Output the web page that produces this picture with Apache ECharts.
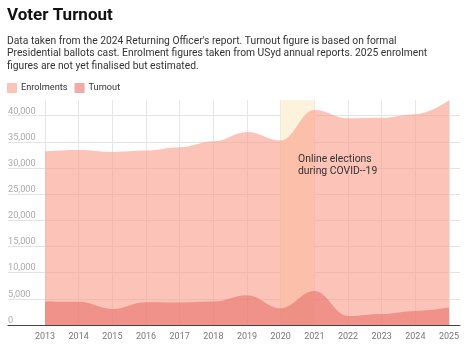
<!DOCTYPE html>
<html><head><meta charset="utf-8">
<script src="https://cdn.jsdelivr.net/npm/echarts@6/dist/echarts.min.js"></script>
<style>html,body{margin:0;padding:0;background:#fff}#c{width:467px;height:347px}</style>
</head><body><div id="c"></div>
<script>
const years = ['2013','2014','2015','2016','2017','2018','2019','2020','2021','2022','2023','2024','2025'];
const enrolments = [33200, 33450, 33080, 33330, 33960, 35100, 36900, 35250, 41100, 39500, 39600, 40300, 42950];
const turnout = [4480, 4420, 3080, 4360, 4290, 4480, 5700, 3200, 6480, 1730, 2110, 2690, 3330];
const yTicks = [0, 5000, 10000, 15000, 20000, 25000, 30000, 35000, 40000];
const covidBand = ['2020', '2021'];
const seriesNames = ['Enrolments', 'Turnout'];

const FONT = 'Roboto';
const yMax = 43000;
const chart = echarts.init(document.getElementById('c'), null, {renderer: 'canvas'});
chart.setOption({
  animation: false,
  textStyle: {fontFamily: FONT},
  title: [
    {text: 'Voter Turnout', left: 7, top: 7, padding: 0,
     textStyle: {fontFamily: FONT, fontSize: 17, fontWeight: 'bold', color: '#111'}},
    {text: "Data taken from the 2024 Returning Officer's report. Turnout figure is based on formal\nPresidential ballots cast. Enrolment figures taken from USyd annual reports. 2025 enrolment\nfigures are not yet finalised but estimated.",
     left: 7, top: 35, padding: 0,
     textStyle: {fontFamily: FONT, fontSize: 10.3, fontWeight: 'normal', color: '#333', lineHeight: 12.5}}
  ],
  legend: {
    left: 7, top: 83, padding: 0, itemGap: 7,
    itemWidth: 10, itemHeight: 10, icon: 'rect',
    data: seriesNames,
    textStyle: {fontFamily: FONT, fontSize: 9.2, color: '#333', padding: [0, 0, 0, -1]}
  },
  grid: [
    {left: 8, right: 7, top: 100, bottom: 22},
    {left: 45, right: 18, top: 100, bottom: 22}
  ],
  xAxis: [
    {gridIndex: 0, type: 'value', min: 0, max: 1, show: true,
     axisLine: {show: true, lineStyle: {color: '#444', width: 1}},
     axisTick: {show: false}, axisLabel: {show: false}, splitLine: {show: false}},
    {gridIndex: 1, type: 'category', data: years, boundaryGap: false,
     axisLine: {show: false}, axisTick: {show: false},
     axisLabel: {color: '#777', fontSize: 9, margin: 7, fontFamily: FONT, interval: 0},
     splitLine: {show: true, lineStyle: {color: '#e6e6e6', width: 1}}}
  ],
  yAxis: [
    {gridIndex: 0, type: 'value', min: 0, max: yMax, interval: 5000,
     axisLine: {show: false}, axisTick: {show: false},
     axisLabel: {inside: true, verticalAlign: 'bottom', align: 'left', margin: 0,
       color: '#aaa', fontSize: 9.2, fontFamily: FONT, padding: [0, 0, 0, 0], showMaxLabel: false,
       formatter: v => yTicks.includes(v) ? v.toLocaleString('en-US') : ''},
     splitLine: {show: true, showMaxLine: false, lineStyle: {color: '#e3e3e3', width: 1}}},
    {gridIndex: 1, type: 'value', min: 0, max: yMax, show: false, splitLine: {show: false}}
  ],
  series: [
    {name: 'band', type: 'line', xAxisIndex: 1, yAxisIndex: 1, data: enrolments, z: 1,
     symbol: 'none', lineStyle: {opacity: 0}, silent: true, legendHoverLink: false,
     markArea: {silent: true, itemStyle: {color: '#fdf3dc'},
       data: [[{xAxis: covidBand[0], yAxis: 0}, {xAxis: covidBand[1], yAxis: yMax}]]}},
    {name: seriesNames[0], type: 'line', xAxisIndex: 1, yAxisIndex: 1, data: enrolments, z: 2,
     smooth: 0.4, smoothMonotone: 'x', symbol: 'none',
     lineStyle: {width: 0}, itemStyle: {color: 'rgba(250,157,137,0.6)'},
     areaStyle: {color: 'rgba(250,157,137,0.6)', opacity: 1}},
    {name: seriesNames[1], type: 'line', xAxisIndex: 1, yAxisIndex: 1, data: turnout, z: 3,
     smooth: 0.4, smoothMonotone: 'x', symbol: 'none',
     lineStyle: {width: 0}, itemStyle: {color: 'rgba(232,113,107,0.6)'},
     areaStyle: {color: 'rgba(232,113,107,0.6)', opacity: 1}}
  ],
  graphic: [
    {type: 'text', left: 298, top: 153, z: 10,
     style: {text: 'Online elections\nduring COVID--19', fill: '#333', font: '10.4px Roboto', lineHeight: 12.5}}
  ]
});
</script></body></html>
